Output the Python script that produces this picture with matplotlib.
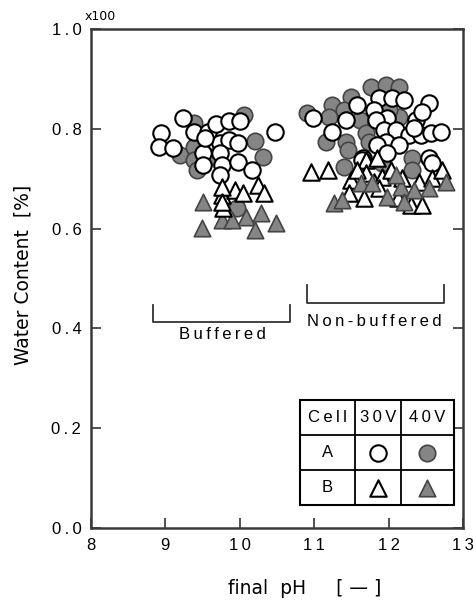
import numpy as np
import matplotlib.pyplot as plt
from matplotlib.patches import Rectangle

# Buffered group
buf_open_circ_x = [9.23, 8.94, 8.91, 9.10, 9.39, 9.57, 9.68, 9.86, 10.00, 10.47, 9.73, 9.86, 9.97,
                   9.50, 9.73, 9.50, 9.76, 9.97, 10.17, 9.73, 9.53]
buf_open_circ_y = [0.822, 0.792, 0.764, 0.762, 0.794, 0.794, 0.810, 0.816, 0.816, 0.794, 0.772, 0.778, 0.772,
                   0.752, 0.752, 0.727, 0.727, 0.733, 0.717, 0.707, 0.782]
buf_fill_circ_x = [10.06, 9.39, 10.20, 10.31, 9.19, 9.39, 9.39, 9.43, 9.96, 9.60]
buf_fill_circ_y = [0.828, 0.812, 0.776, 0.743, 0.747, 0.764, 0.737, 0.717, 0.641, 0.743]
buf_open_tri_x = [9.76, 9.93, 10.04, 10.24, 10.33, 9.76, 9.77, 9.76]
buf_open_tri_y = [0.667, 0.677, 0.671, 0.687, 0.671, 0.683, 0.641, 0.653]
buf_fill_tri_x = [9.51, 9.49, 9.76, 10.09, 10.29, 10.20, 10.49, 9.89]
buf_fill_tri_y = [0.653, 0.601, 0.617, 0.623, 0.631, 0.597, 0.611, 0.617]

# Non-buffered group
nb_fill_circ_x = [10.90, 11.77, 11.97, 12.14, 11.50, 11.24, 11.20, 11.40, 11.61, 11.16, 11.43, 11.70,
                  11.74, 12.14, 12.01, 12.32, 11.45, 11.40, 12.32, 11.91]
nb_fill_circ_y = [0.832, 0.884, 0.888, 0.884, 0.864, 0.848, 0.824, 0.838, 0.818, 0.774, 0.774, 0.792,
                  0.774, 0.824, 0.838, 0.741, 0.758, 0.723, 0.717, 0.731]
nb_open_circ_x = [10.98, 11.58, 11.87, 12.05, 12.21, 11.43, 11.81, 11.98, 11.83, 11.24, 11.94, 12.10,
                  12.37, 12.54, 12.45, 12.28, 12.44, 12.57, 12.71, 12.34, 11.97, 12.14, 11.85, 11.65,
                  12.54, 11.98, 12.58, 11.64]
nb_open_circ_y = [0.822, 0.848, 0.862, 0.862, 0.858, 0.818, 0.838, 0.822, 0.818, 0.794, 0.798, 0.798,
                  0.818, 0.852, 0.834, 0.788, 0.788, 0.792, 0.794, 0.802, 0.774, 0.768, 0.768, 0.741,
                  0.741, 0.751, 0.731, 0.737]
nb_open_tri_x = [10.96, 11.18, 11.70, 11.85, 11.50, 11.70, 11.81, 11.91, 12.03, 12.18, 11.47, 11.67,
                 11.87, 12.12, 12.30, 12.45, 12.41, 12.58, 12.72, 11.58]
nb_open_tri_y = [0.713, 0.717, 0.737, 0.741, 0.697, 0.711, 0.693, 0.703, 0.717, 0.701, 0.671, 0.661,
                 0.681, 0.661, 0.647, 0.647, 0.693, 0.701, 0.717, 0.717]
nb_fill_tri_x = [11.27, 11.38, 11.63, 11.98, 12.17, 12.21, 12.77, 12.54, 12.10, 11.78, 12.34]
nb_fill_tri_y = [0.651, 0.657, 0.691, 0.663, 0.683, 0.653, 0.693, 0.681, 0.707, 0.691, 0.677]

sp = "\u2009"
x_ticks = [8, 9, 10, 11, 12, 13]
x_tick_labels = ["8", "9", "1" + sp + "0", "1" + sp + "1", "1" + sp + "2", "1" + sp + "3"]
y_ticks = [0.0, 0.2, 0.4, 0.6, 0.8, 1.0]
y_tick_labels = [sp.join(s) for s in ["0.0", "0.2", "0.4", "0.6", "0.8", "1.0"]]

gray = "#858585"
edge_f = "#444444"
ms = 140

fig = plt.figure(figsize=(4.76, 6.06), dpi=100)
ax = fig.add_axes([91/476, 1 - 528/606, (463-91)/476, (528-29)/606])

def draw(x, y, marker, filled):
    if filled:
        ax.scatter(x, y, s=ms, marker=marker, facecolor=gray, edgecolor=edge_f, linewidths=1.2, zorder=3)
    else:
        ax.scatter(x, y, s=ms, marker=marker, facecolor="white", edgecolor="black", linewidths=1.5, zorder=3)

draw(buf_fill_circ_x, buf_fill_circ_y, "o", True)
draw(buf_open_circ_x, buf_open_circ_y, "o", False)
draw(nb_fill_circ_x, nb_fill_circ_y, "o", True)
draw(nb_open_circ_x, nb_open_circ_y, "o", False)
draw(buf_fill_tri_x, buf_fill_tri_y, "^", True)
draw(buf_open_tri_x, buf_open_tri_y, "^", False)
draw(nb_open_tri_x, nb_open_tri_y, "^", False)
draw(nb_fill_tri_x, nb_fill_tri_y, "^", True)

ax.set_xlim(8, 13)
ax.set_ylim(0, 1.0)
tick_font = dict(family=["Liberation Sans", "DejaVu Sans"], size=12)
ax.set_xticks(x_ticks)
ax.set_xticklabels(x_tick_labels, **tick_font)
ax.set_yticks(y_ticks)
ax.set_yticklabels(y_tick_labels, **tick_font)
ax.tick_params(direction="in", length=7, width=1.2, color="#333333", right=True, pad=7)
for s in ax.spines.values():
    s.set_linewidth(1.8)
    s.set_color("#3a3a3a")

# brackets
lc = "#333333"
ax.plot([8.83, 8.83, 10.67, 10.67], [0.447, 0.413, 0.413, 0.447], color=lc, lw=1.3)
ax.text(9.76, 0.387, sp.join("Buffered"), ha="center", va="center", **tick_font)
ax.plot([10.90, 10.90, 12.75, 12.75], [0.487, 0.451, 0.451, 0.487], color=lc, lw=1.3)
ax.text(11.81, 0.413, sp.join("Non-buffered"), ha="center", va="center", **tick_font)

# legend table
cols = [10.81, 11.55, 12.16, 12.88]
rows = [0.2565, 0.186, 0.116, 0.046]
ax.add_patch(Rectangle((cols[0], rows[3]), cols[3]-cols[0], rows[0]-rows[3],
                       facecolor="white", edgecolor="black", lw=1.5, zorder=4))
for c in cols[1:3]:
    ax.plot([c, c], [rows[3], rows[0]], color="black", lw=1.3, zorder=5)
for r in rows[1:3]:
    ax.plot([cols[0], cols[3]], [r, r], color="black", lw=1.3, zorder=5)
cx = [(cols[i] + cols[i+1]) / 2 for i in range(3)]
cy = [(rows[i] + rows[i+1]) / 2 for i in range(3)]
for i, t in enumerate(["Cell", "30V", "40V"]):
    ax.text(cx[i], cy[0], sp.join(t), ha="center", va="center", zorder=6, **tick_font)
ax.text(cx[0], cy[1], "A", ha="center", va="center", zorder=6, **tick_font)
ax.text(cx[0], cy[2], "B", ha="center", va="center", zorder=6, **tick_font)
ax.scatter([cx[1]], [cy[1]], s=ms, marker="o", facecolor="white", edgecolor="black", linewidths=1.5, zorder=6)
ax.scatter([cx[2]], [cy[1]], s=ms, marker="o", facecolor=gray, edgecolor=edge_f, linewidths=1.2, zorder=6)
ax.scatter([cx[1]], [cy[2]], s=ms, marker="^", facecolor="white", edgecolor="black", linewidths=1.5, zorder=6)
ax.scatter([cx[2]], [cy[2]], s=ms, marker="^", facecolor=gray, edgecolor=edge_f, linewidths=1.2, zorder=6)

lab_font = dict(family="DejaVu Sans", size=13.5)
fig.text(23/476, 1 - 275/606, "Water Content  [%]", rotation=90, ha="center", va="center", **lab_font)
fig.text(305/476, 1 - 588/606, "final  pH     [ — ]", ha="center", va="center", **lab_font)
fig.text(100/476, 1 - 17/606, "x100", ha="center", va="center", family="DejaVu Sans", size=9)

fig.savefig("out.png", dpi=100)
